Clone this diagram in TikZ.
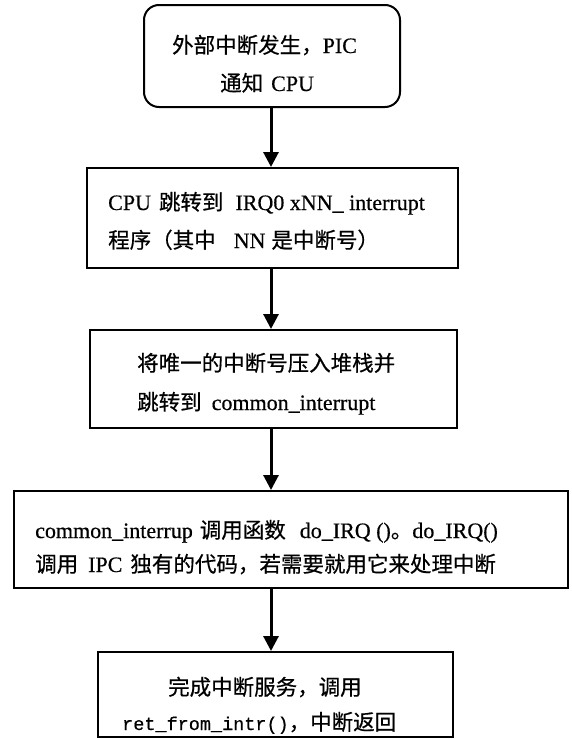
\documentclass[tikz,border=0pt]{standalone}
\usepackage{fontspec}
\setmainfont{Liberation Serif}[FakeBold=0.5]
\setmonofont{Liberation Mono}[FakeBold=0.5]
\newfontfamily\cjkfont{Noto Sans CJK SC}[FakeBold=0.6]
\usetikzlibrary{arrows.meta}
\newcommand\zh[1]{{\cjkfont\fontsize{21.5pt}{21.5pt}\selectfont #1}}
\tikzset{
  box/.style={draw, line width=2pt, rectangle, inner sep=0pt},
  arr/.style={line width=3pt, -{Triangle[length=15pt,width=15pt]}},
  txt/.style={anchor=base west, inner sep=0pt, font=\fontsize{22pt}{26pt}\selectfont},
}
\begin{document}
\begin{tikzpicture}[x=1pt,y=-1pt]
\useasboundingbox (0,0) rectangle (571,739);
% boxes
\node[box, rounded corners=15pt, minimum width=256pt, minimum height=102pt] (b1) at (272,56) {};
\node[box, minimum width=371pt, minimum height=100pt] (b2) at (272.5,218) {};
\node[box, minimum width=367pt, minimum height=98pt] (b3) at (273.5,379) {};
\node[box, minimum width=554pt, minimum height=97pt] (b4) at (291,539.5) {};
\node[box, minimum width=355pt, minimum height=85pt] (b5) at (275.5,694.5) {};
% texts
\node[txt] (t1a) at (172,53) {\zh{外部中断发生，}PIC};
\node[txt] (t1b) at (220,91) {\zh{通知}\hspace{8pt}CPU};
\node[txt] (t2a) at (108,210) {CPU\hspace{8pt}\zh{跳转到}\hspace{12pt}IRQ0 xNN\_ interrupt};
\node[txt] (t2b) at (108,248) {\zh{程序（其中}\hspace{18pt}NN\hspace{6pt}\zh{是中断号）}};
\node[txt] (t3a) at (137,371) {\zh{将唯一的中断号压入堆栈并}};
\node[txt] (t3b) at (137,410) {\zh{跳转到}\hspace{10pt}common\_interrupt};
\node[txt] (t4a) at (35,538) {common\_interrup\hspace{7pt}\zh{调用函数}\hspace{14pt}do\_IRQ ()\zh{。}do\_IRQ()};
\node[txt] (t4b) at (35,572) {\zh{调用}\hspace{10pt}IPC\hspace{8pt}\zh{独有的代码，若需要就用它来处理中断}};
\node[txt] (t5a) at (168,695) {\zh{完成中断服务，调用}};
\node[txt] (t5b) at (122,730) {{\ttfamily\fontsize{18.5pt}{18.5pt}\selectfont ret\_from\_intr()}\zh{，中断返回}};
% connectors
\coordinate (ax) at (271,0);
\draw[arr] (b1.south -| ax) -- (b2.north -| ax);
\draw[arr] (b2.south -| ax) -- (b3.north -| ax);
\draw[arr] (b3.south -| ax) -- (b4.north -| ax);
\draw[arr] (b4.south -| ax) -- (b5.north -| ax);
\end{tikzpicture}
\end{document}
